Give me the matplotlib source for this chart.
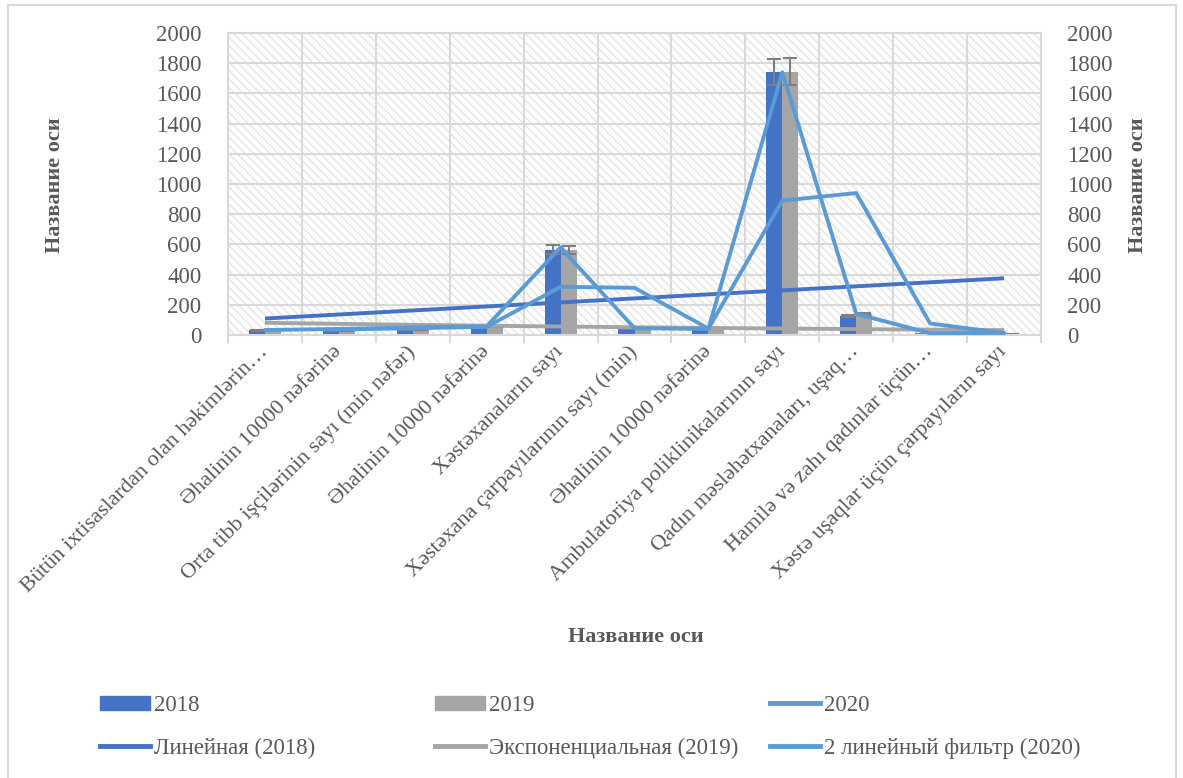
import matplotlib
matplotlib.use("Agg")
import matplotlib.pyplot as plt
from matplotlib.patches import Rectangle, Patch
from matplotlib.lines import Line2D
import numpy as np

plt.rcParams['font.family'] = ['Liberation Serif', 'DejaVu Serif']
plt.rcParams['hatch.linewidth'] = 1.0

# data
categories = [
    "Bütün ixtisaslardan olan həkimlərin…",
    "Əhalinin 10000 nəfərinə",
    "Orta tibb işçilərinin sayı (min nəfər)",
    "Əhalinin 10000 nəfərinə",
    "Xəstəxanaların sayı",
    "Xəstəxana çarpayılarının sayı (min)",
    "Əhalinin 10000 nəfərinə",
    "Ambulatoriya poliklinikalarının sayı",
    "Qadın məsləhətxanaları, uşaq…",
    "Hamilə və zahı qadınlar üçün…",
    "Xəstə uşaqlar üçün çarpayıların sayı",
]
v2018 = [30, 28, 32, 50, 566, 42, 40, 1740, 124, 6, 8]
v2019 = [32, 30, 34, 55, 563, 42, 40, 1744, 136, 4, 4]
v2020 = [33, 40, 50, 58, 580, 45, 40, 1740, 140, 12, 14]
err_pct = 0.05

c18 = "#4472C4"
c19 = "#A5A5A5"
c20 = "#5B9BD5"
txt = "#595959"
grid_c = "#D9D9D9"

n = len(categories)
x = np.arange(n) + 0.5
idx = np.arange(1, n + 1)

# trendlines
lin = np.polyval(np.polyfit(idx, v2018, 1), idx)
b, a = np.polyfit(idx, np.log(v2019), 1)
expo = np.exp(a + b * idx)
v20 = np.array(v2020, dtype=float)
ma = (v20[1:] + v20[:-1]) / 2

fig = plt.figure(figsize=(11.83, 7.78), dpi=100)
W, H = 1183, 778
ax = fig.add_axes([228 / W, 1 - 335 / H, (1041 - 228) / W, (335 - 33) / H])

# hatched plot area
ax.add_patch(Rectangle((0, 0), 1, 1, transform=ax.transAxes, facecolor="white",
                       edgecolor="#E4E4E4", hatch="\\\\\\\\", lw=0, zorder=0.1))
ax.patch.set_alpha(0)

bw = 0.2165
ax.bar(x - bw / 2, v2018, bw, color=c18, zorder=2,
       yerr=np.array(v2018) * err_pct, ecolor="#7F7F7F",
       error_kw=dict(capsize=5, elinewidth=1.5, capthick=1.5))
ax.bar(x + bw / 2, v2019, bw, color=c19, zorder=2,
       yerr=np.array(v2019) * err_pct, ecolor="#7F7F7F",
       error_kw=dict(capsize=5, elinewidth=1.5, capthick=1.5))

ax.plot(x, lin, color=c18, lw=2.8, zorder=3, solid_capstyle="butt")
ax.plot(x, expo, color=c19, lw=2.8, zorder=3, solid_capstyle="butt")
ax.plot(x, v2020, color=c20, lw=2.8, zorder=4, solid_capstyle="round")
ax.plot(x[1:], ma, color=c20, lw=2.8, zorder=4, solid_capstyle="round")

ax.set_xlim(0, n)
ax.set_ylim(0, 2000)
ax.set_yticks(range(0, 2001, 200))
ax.set_xticks(x)
ax.set_xticks(np.arange(n + 1), minor=True)
ax.set_xticklabels(categories, rotation=45, ha="right", va="center",
                   rotation_mode="anchor", fontsize=16, color=txt)
ax.tick_params(axis="x", which="major", length=0, pad=10)
ax.tick_params(axis="x", which="minor", length=6, width=1.5, color=grid_c)
ax.tick_params(axis="y", length=0, pad=19, labelsize=16.5, labelcolor=txt)
ax.grid(axis="y", color=grid_c, lw=1.5, zorder=0.5)
ax.grid(axis="x", which="minor", color=grid_c, lw=1.5, zorder=0.5)
ax.set_axisbelow(True)
for s in ax.spines.values():
    s.set_color(grid_c)
    s.set_linewidth(1.5)

ax2 = ax.twinx()
ax2.set_ylim(0, 2000)
ax2.set_yticks(range(0, 2001, 200))
ax2.tick_params(axis="y", length=0, pad=19, labelsize=16.5, labelcolor=txt)
for s in ax2.spines.values():
    s.set_visible(False)

fig.text(55 / W, 1 - 185 / H, "Название оси", rotation=90, ha="center", va="center",
         fontsize=16, fontweight="bold", color=txt)
fig.text(1138 / W, 1 - 185 / H, "Название оси", rotation=90, ha="center", va="center",
         fontsize=16, fontweight="bold", color=txt)
fig.text(636 / W, 1 - 637 / H, "Название оси", ha="center", va="center",
         fontsize=16, fontweight="bold", color=txt)

# legend in three columns
cols = [
    (100, [Patch(color=c18), Line2D([], [], color=c18, lw=3.5)], ["2018", "Линейная (2018)"]),
    (435, [Patch(color=c19), Line2D([], [], color=c19, lw=3.5)], ["2019", "Экспоненциальная (2019)"]),
    (770, [Line2D([], [], color=c20, lw=3.5), Line2D([], [], color=c20, lw=3.5)], ["2020", "2 линейный фильтр (2020)"]),
]
for px, hs, ls in cols:
    leg = fig.legend(hs, ls, loc="upper left", bbox_to_anchor=(px / W, 1 - 695 / H),
                     frameon=False, fontsize=16.5, handlelength=2.2, handleheight=0.6,
                     handletextpad=0.15, labelspacing=0.95, borderaxespad=0, borderpad=0)
    for t in leg.get_texts():
        t.set_color(txt)

fig.patches.append(Rectangle((8 / W, -0.01), (1176 - 8) / W, 1 - 5 / H + 0.01,
                             transform=fig.transFigure, fill=False,
                             edgecolor=grid_c, lw=1.5))

fig.savefig("out.png", dpi=100)
